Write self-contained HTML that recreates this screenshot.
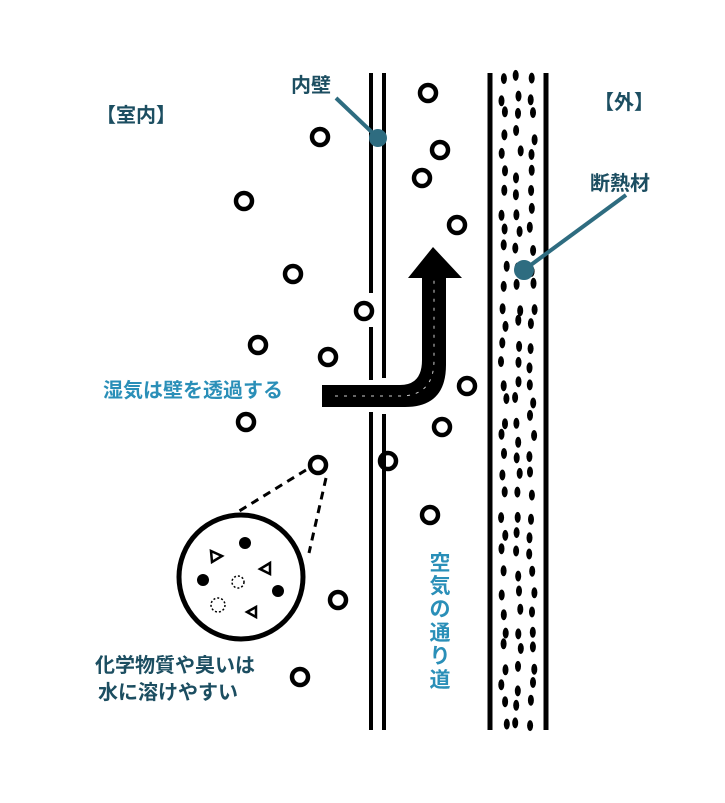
<!DOCTYPE html>
<html><head><meta charset="utf-8"><style>
body{margin:0;background:#fff;}
svg{display:block}
text{font-family:"Liberation Sans","Noto Sans CJK JP",sans-serif;font-weight:bold;}
</style></head><body>
<svg id="s" width="725" height="803" viewBox="0 0 725 803" xmlns="http://www.w3.org/2000/svg">
<g stroke="#000" stroke-width="4">
<line x1="371" y1="73" x2="371" y2="293"/>
<line x1="371" y1="327" x2="371" y2="380"/>
<line x1="371" y1="412" x2="371" y2="730"/>
<line x1="384" y1="73" x2="384" y2="378"/>
<line x1="384" y1="414" x2="384" y2="730"/>
<line x1="490" y1="73" x2="490" y2="730" stroke-width="5"/>
<line x1="546" y1="73" x2="546" y2="730" stroke-width="5"/>
</g>
<g id="dots" fill="#000"></g>
<g id="bub" fill="none" stroke="#000" stroke-width="4.5"></g>
<path d="M322 385 L400 385 Q422 385 422 360 L422 278 L408 278 L433 247 L462 278 L446 278 L446 365 Q446 407 405 407 L322 407 Z" fill="#000"/>
<path d="M335 396 L400 396 Q434 396 434 360 L434 280" fill="none" stroke="#fff" stroke-width="1" stroke-dasharray="3 6" opacity="0.8"/>
<circle cx="241" cy="577" r="62" fill="none" stroke="#000" stroke-width="5"/>
<line x1="306" y1="470" x2="236" y2="513" stroke="#000" stroke-width="3" stroke-dasharray="8 6"/>
<line x1="326" y1="478" x2="309" y2="553" stroke="#000" stroke-width="3" stroke-dasharray="8 6"/>
<g fill="none" stroke="#000" stroke-width="2.5">
<path d="M211 551 L222 556 L212 562 Z"/>
<path d="M270 563 L260 569 L270 574 Z"/>
<path d="M256 607 L247 612 L256 617 Z"/>
<circle cx="238" cy="582" r="6" stroke-width="1.5" stroke-dasharray="2 2"/>
<circle cx="218" cy="605" r="7" stroke-width="1.5" stroke-dasharray="2 2"/>
</g>
<g fill="#000">
<circle cx="245" cy="543" r="6"/><circle cx="203" cy="580" r="6"/><circle cx="278" cy="591" r="6"/>
</g>
<g stroke="#2e6c80" stroke-width="4" fill="#2e6c80">
<line x1="336" y1="98" x2="378" y2="138"/><circle cx="378" cy="138" r="7"/>
<line x1="626" y1="195" x2="524" y2="270"/><circle cx="524" cy="270" r="8"/>
</g>
<g fill="#1c4e61" font-size="20">
<text x="96" y="122">【室内】</text>
<text x="291" y="92">内壁</text>
<text x="594" y="109">【外】</text>
<text x="590" y="190">断熱材</text>
<text x="95" y="672">化学物質や臭いは</text>
<text x="98" y="699">水に溶けやすい</text>
</g>
<g fill="#2a8fb8" font-size="20">
<text x="103" y="397">湿気は壁を透過する</text>
</g>
<g fill="#2a8fb8" font-size="21" text-anchor="middle">
<text x="440" y="570">空</text><text x="440" y="593">気</text><text x="440" y="616">の</text><text x="440" y="640">通</text><text x="440" y="663">り</text><text x="440" y="687">道</text>
</g>
</svg>
<script>
var ns="http://www.w3.org/2000/svg";
var b=[[428,93],[320,137],[440,150],[422,178],[244,201],[457,225],[293,274],[364,311],[258,345],[328,357],[467,386],[246,422],[442,427],[388,461],[318,465],[430,515],[338,600],[300,677]];
var g=document.getElementById('bub');
b.forEach(function(p){var c=document.createElementNS(ns,'circle');c.setAttribute('cx',p[0]);c.setAttribute('cy',p[1]);c.setAttribute('r',8);g.appendChild(c);});
var d=document.getElementById('dots');var seed=7;function r(){seed=(seed*9301+49297)%233280;return seed/233280;}
for(var y=78;y<725;y+=19){for(var k=0;k<3;k++){var x=504+k*14+(r()-0.5)*6;var yy=y+(r()-0.5)*10;var e=document.createElementNS(ns,'ellipse');e.setAttribute('cx',x.toFixed(1));e.setAttribute('cy',yy.toFixed(1));e.setAttribute('rx',3);e.setAttribute('ry',5.5);d.appendChild(e);}}
</script>
</body></html>
